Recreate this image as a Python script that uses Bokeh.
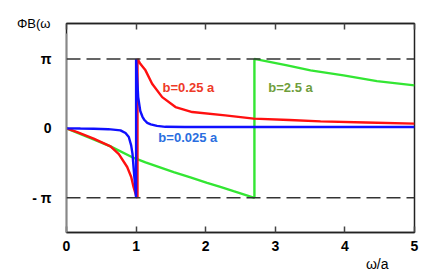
import numpy as np
from bokeh.plotting import figure
from bokeh.models import Range1d, LinearAxis, FixedTicker, Span, Label, Title
from bokeh.embed import file_html
from bokeh.resources import INLINE

PI = np.pi

# ---- data (y values in units of pi) ----
blue_x = [0.0, 0.2, 0.39, 0.6, 0.776, 0.848, 0.895, 0.929, 0.948, 0.967, 0.987, 1.0,
          1.0, 1.03, 1.06, 1.09, 1.12, 1.16, 1.21, 1.3, 1.42, 1.7, 2.2, 3.0, 4.0, 5.0]
blue_y = [0.0, -0.003, -0.005, -0.012, -0.029, -0.068, -0.125, -0.245, -0.364, -0.604, -0.845, -1.0,
          1.0, 0.45, 0.25, 0.17, 0.12, 0.08, 0.058, 0.035, 0.022, 0.02, 0.02, 0.02, 0.02, 0.02]

red_x = [0.0, 0.154, 0.39, 0.632, 0.752, 0.872, 0.93, 0.963, 1.0, 1.02,
         1.02, 1.06, 1.135, 1.23, 1.375, 1.566, 1.806, 2.28, 2.69, 3.2, 3.65, 4.3, 5.0]
red_y = [0.0, -0.053, -0.148, -0.259, -0.37, -0.557, -0.7, -0.845, -0.97, -1.0,
         1.0, 0.93, 0.835, 0.643, 0.45, 0.307, 0.235, 0.187, 0.14, 0.12, 0.1, 0.085, 0.068]

green_x = [0.0, 0.3, 0.632, 0.967, 1.135, 1.54, 1.78, 2.02, 2.21, 2.40, 2.70,
           2.70, 3.17, 3.506, 3.98, 4.46, 5.0]
green_y = [0.0, -0.124, -0.259, -0.427, -0.49, -0.629, -0.705, -0.784, -0.842, -0.904, -1.0,
           1.0, 0.906, 0.835, 0.763, 0.68, 0.619]

x_ticks = [0, 1, 2, 3, 4, 5]
y_ticks = [-1, 0, 1]
y_tick_labels = ["- π", "0", "π"]

FONT = "Liberation Sans"

p = figure(frame_width=348, frame_height=209, output_backend="svg", toolbar_location=None,
           x_range=Range1d(0, 5), y_range=Range1d(-1.5 * PI, 1.51 * PI),
           min_border_left=66, min_border_right=20, min_border_top=23, min_border_bottom=6,
           x_axis_location=None, y_axis_location=None)
p.grid.visible = False
p.outline_line_color = "#222222"
p.outline_line_width = 1.5
p.background_fill_color = "white"
p.border_fill_color = "white"


def try_set(obj, attr, options):
    for opt in options:
        try:
            setattr(obj, attr, opt)
            return
        except Exception:
            pass


# bottom axis
xb = LinearAxis(ticker=FixedTicker(ticks=x_ticks))
xb.major_tick_in = 6
xb.major_tick_out = 0
xb.minor_tick_line_color = None
xb.axis_line_color = "#222222"
xb.axis_line_width = 1.5
xb.major_tick_line_width = 1.5
xb.major_tick_line_color = "#444444"
xb.major_label_text_font = FONT
xb.major_label_text_font_style = "bold"
xb.major_label_text_font_size = "14px"
xb.major_label_text_color = "black"
xb.major_label_standoff = 8
p.add_layout(xb, "below")

# top axis (ticks only)
xt = LinearAxis(ticker=FixedTicker(ticks=x_ticks))
xt.major_tick_in = 6
xt.major_tick_out = 0
xt.minor_tick_line_color = None
xt.axis_line_color = "#222222"
xt.axis_line_width = 1.5
xt.major_tick_line_width = 1.5
xt.major_tick_line_color = "#444444"
xt.major_label_overrides = {t: "" for t in x_ticks}
xt.major_label_standoff = 0
p.add_layout(xt, "above")

# left axis, with the quantity name at its top end
yl = LinearAxis(ticker=FixedTicker(ticks=[t * PI for t in y_ticks]))
yl.major_label_overrides = {t * PI: lab for t, lab in zip(y_ticks, y_tick_labels)}
yl.bounds = (-1.5 * PI, 1.36 * PI)
yl.major_tick_line_color = None
yl.minor_tick_line_color = None
yl.axis_line_color = "#888888"
yl.axis_line_width = 1.5
yl.major_label_text_font = FONT
yl.major_label_text_font_style = "bold"
yl.major_label_text_font_size = "14px"
yl.major_label_text_color = "black"
yl.major_label_standoff = 9
yl.axis_label = "ΦB(ω"
yl.axis_label_orientation = "horizontal"
yl.axis_label_text_font = FONT
yl.axis_label_text_font_style = "normal"
yl.axis_label_text_font_size = "13px"
yl.axis_label_text_color = "black"
try_set(yl, "axis_label_align", ["end", "right", "top"])
try_set(yl, "axis_label_standoff_mode", ["axis"])
yl.axis_label_standoff = 16
p.add_layout(yl, "left")

# x quantity name, right-aligned below the axis
t_x = Title(text="ω/a", align="right", offset=26, standoff=0,
            text_font=FONT, text_font_size="14px", text_font_style="normal",
            text_color="black")
p.add_layout(t_x, "below")

# dashed reference levels at +/- pi
for lev in (PI, -PI):
    p.add_layout(Span(location=lev, dimension="width", line_color="#333333",
                      line_width=1.5, line_dash="14 6"))

p.line(green_x, [v * PI for v in green_y], line_color="#33e633", line_width=2.4)
p.line(red_x, [v * PI for v in red_y], line_color="#ff1010", line_width=2.4)
p.line(blue_x, [v * PI for v in blue_y], line_color="#1010ff", line_width=2.4)


def lab(text, x, y, color):
    p.add_layout(Label(x=x, y=y, text=text, text_color=color, text_font=FONT,
                       text_font_style="bold", text_font_size="13px",
                       text_baseline="middle", text_align="left"))


lab("b=0.25 a", 1.38, 0.59 * PI, "#ee3a28")
lab("b=0.025 a", 1.32, -0.13 * PI, "#2a6ee0")
lab("b=2.5 a", 2.90, 0.59 * PI, "#6f9e3c")

open("out.html", "w").write(file_html(p, INLINE))
